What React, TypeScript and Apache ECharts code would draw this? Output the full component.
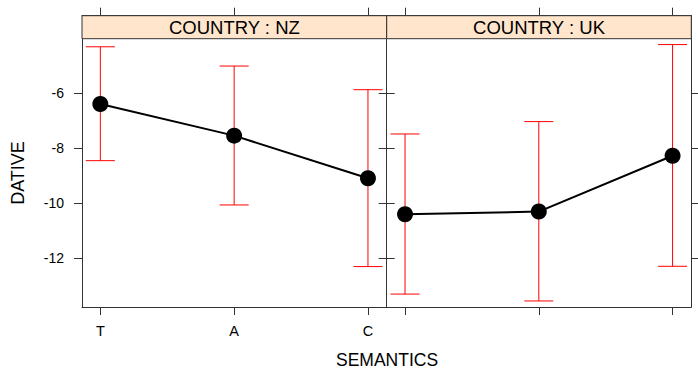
import React, { useEffect, useRef } from "react";
import * as echarts from "echarts";

const categories = ["T", "A", "C"];
const panelTitles = ["COUNTRY : NZ", "COUNTRY : UK"];
const nzMean = [-6.39, -7.54, -9.09];
const nzLower = [-8.45, -10.06, -12.3];
const nzUpper = [-4.31, -5.01, -5.87];
const ukMean = [-10.4, -10.3, -8.27];
const ukLower = [-13.3, -13.55, -12.29];
const ukUpper = [-7.48, -7.03, -4.23];
const yTicks = [-12, -10, -8, -6];
const xTitle = "SEMANTICS";
const yTitle = "DATIVE";

const FONT = "'Liberation Sans', Arial, Helvetica, sans-serif";

export default function App() {
  const ref = useRef<HTMLDivElement>(null);
  useEffect(() => {
    const chart = echarts.init(ref.current!, null, { renderer: "svg" });
    const top = 15.7;
    const bottomY = 307;
    const stripH = 23;
    const panelsLayout = [
      { left: 82, width: 304.7 },
      { left: 386.7, width: 304.6 },
    ];
    const panelData = [
      { mean: nzMean, lower: nzLower, upper: nzUpper },
      { mean: ukMean, lower: ukLower, upper: ukUpper },
    ];
    const xVals = categories.map((_, j) => j + 1);
    const axisColor = "#333";

    const grid: any[] = [];
    const xAxis: any[] = [];
    const yAxis: any[] = [];
    const series: any[] = [];
    const graphic: any[] = [];

    panelsLayout.forEach((p, i) => {
      grid.push({ left: p.left, top, width: p.width, height: bottomY - top });
      const baseX = {
        type: "value",
        gridIndex: i,
        min: 0.863,
        max: 3.14,
        splitLine: { show: false },
        axisLine: { show: true, lineStyle: { color: axisColor, width: 1 } },
        axisTick: { show: true, length: 8, customValues: xVals, lineStyle: { color: axisColor } },
      };
      xAxis.push({
        ...baseX,
        position: "bottom",
        axisLabel: {
          show: i === 0,
          customValues: xVals,
          formatter: (v: number) => "{c|" + (categories[Math.round(v) - 1] ?? "") + "}",
          color: "#000",
          fontFamily: FONT,
          fontSize: 14,
          margin: 16,
          rich: { c: { fontSize: 14.5, fontFamily: FONT, color: "#000" } },
        },
      });
      xAxis.push({ ...baseX, position: "top", axisLabel: { show: false } });
      const baseY = {
        type: "value",
        gridIndex: i,
        min: -13.77,
        max: -3.18,
        splitLine: { show: false },
        axisLine: { show: true, lineStyle: { color: axisColor, width: 1 } },
        axisTick: { show: true, length: 8, customValues: yTicks, lineStyle: { color: axisColor } },
      };
      yAxis.push({
        ...baseY,
        position: "left",
        axisLabel: {
          show: i === 0,
          customValues: yTicks,
          color: "#000",
          fontFamily: FONT,
          fontSize: 14,
          margin: 18,
        },
      });
      yAxis.push({ ...baseY, position: "right", axisLabel: { show: false } });

      const d = panelData[i];
      series.push({
        type: "custom",
        xAxisIndex: 2 * i,
        yAxisIndex: 2 * i,
        z: 2,
        data: xVals.map((x, j) => [x, d.lower[j], d.upper[j]]),
        encode: { x: 0, y: [1, 2] },
        renderItem: (_params: any, api: any) => {
          const x = api.value(0);
          const lo = api.coord([x, api.value(1)]);
          const hi = api.coord([x, api.value(2)]);
          const hw = 14.5;
          const style = { stroke: "#ff0000", lineWidth: 1, fill: null };
          return {
            type: "group",
            children: [
              { type: "line", shape: { x1: lo[0], y1: lo[1], x2: hi[0], y2: hi[1] }, style },
              { type: "line", shape: { x1: lo[0] - hw, y1: lo[1], x2: lo[0] + hw, y2: lo[1] }, style },
              { type: "line", shape: { x1: hi[0] - hw, y1: hi[1], x2: hi[0] + hw, y2: hi[1] }, style },
            ],
          };
        },
      });
      series.push({
        type: "line",
        xAxisIndex: 2 * i,
        yAxisIndex: 2 * i,
        z: 5,
        data: xVals.map((x, j) => [x, d.mean[j]]),
        symbol: "circle",
        symbolSize: 16,
        lineStyle: { color: "#000", width: 2 },
        itemStyle: { color: "#000" },
      });

      graphic.push({
        type: "rect",
        shape: { x: p.left, y: top, width: p.width, height: stripH },
        style: { fill: "#FFE5CC", stroke: axisColor, lineWidth: 1 },
        z: 10,
      });
      graphic.push({
        type: "text",
        x: p.left + p.width / 2,
        y: top + stripH / 2 + 0.5,
        style: {
          text: panelTitles[i],
          fontFamily: FONT,
          fontSize: 18.5,
          fill: "#000",
          align: "center",
          verticalAlign: "middle",
        },
        z: 11,
      });
    });

    graphic.push({
      type: "text",
      x: 387,
      y: 359.5,
      style: {
        text: xTitle,
        fontFamily: FONT,
        fontSize: 17.5,
        fill: "#000",
        align: "center",
        verticalAlign: "middle",
      },
    });
    graphic.push({
      type: "text",
      x: 18,
      y: 173,
      rotation: Math.PI / 2,
      style: {
        text: yTitle,
        fontFamily: FONT,
        fontSize: 18,
        fill: "#000",
        align: "center",
        verticalAlign: "middle",
      },
    });

    chart.setOption({
      animation: false,
      backgroundColor: "#fff",
      grid,
      xAxis,
      yAxis,
      series,
      graphic,
    });
    return () => chart.dispose();
  }, []);
  return (
    <div
      ref={ref}
      style={{ position: "fixed", left: 0, top: 0, width: 698, height: 369 }}
    />
  );
}
